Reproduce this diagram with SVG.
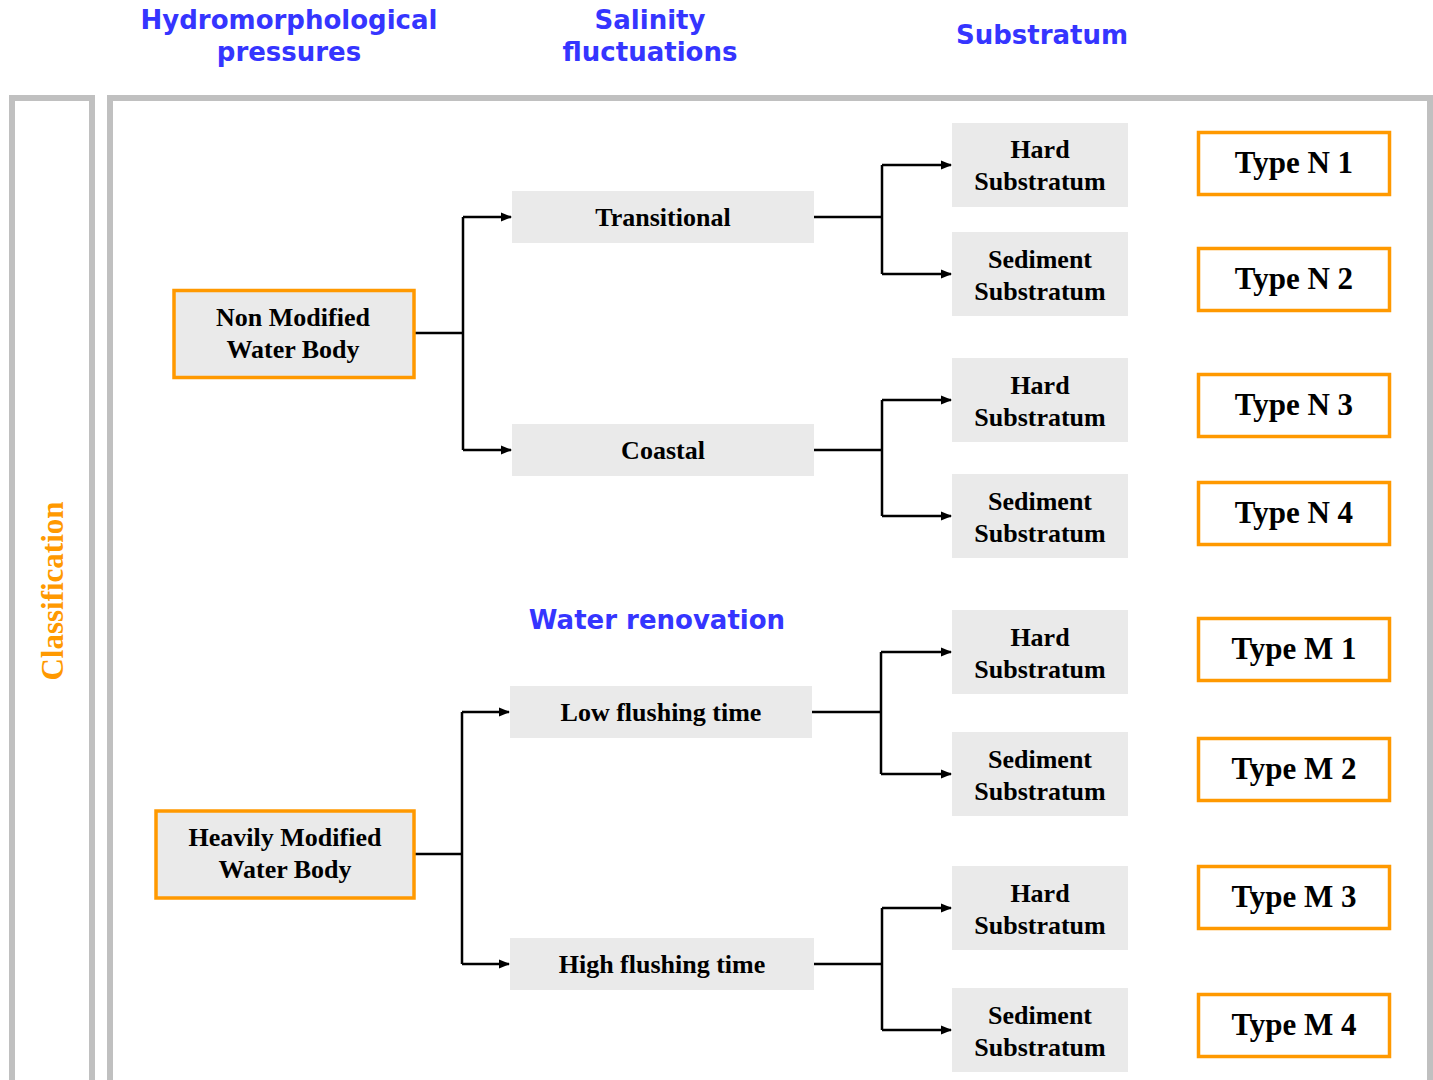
<svg xmlns="http://www.w3.org/2000/svg" width="1433" height="1080" viewBox="0 0 1433 1080">
<style>
.hdr{font-family:"DejaVu Sans","Liberation Sans",sans-serif;font-weight:bold;font-size:26px;fill:#3535ff;text-anchor:middle}
.lbl{font-family:"Liberation Serif","Times New Roman",serif;font-weight:bold;font-size:26px;fill:#000;text-anchor:middle}
.typ{font-family:"Liberation Serif","Times New Roman",serif;font-weight:bold;font-size:31px;fill:#000;text-anchor:middle}
.grey{fill:#eaeaea}
.orange{fill:#eaeaea;stroke:#ff9900;stroke-width:3.5}
.type{fill:#fff;stroke:#ff9900;stroke-width:3.5}
.frame{fill:none;stroke:#c0c0c0;stroke-width:6}
.con{fill:none;stroke:#000;stroke-width:2.5}
</style>
<defs>
<marker id="arr" markerUnits="userSpaceOnUse" markerWidth="12" markerHeight="12" refX="10" refY="6" orient="auto">
<path d="M0,1.5 L11,6 L0,10.5 Z" fill="#000"/>
</marker>
</defs>
<rect width="1433" height="1080" fill="#fff"/>
<g id="frames">
<rect class="frame" x="12" y="98" width="80" height="1000"/>
<rect class="frame" x="110" y="98" width="1320" height="1000"/>
</g>
<g id="headers">
<text class="hdr" x="289" y="29">Hydromorphological</text>
<text class="hdr" x="289" y="61">pressures</text>
<text class="hdr" x="650" y="29">Salinity</text>
<text class="hdr" x="650" y="61">fluctuations</text>
<text class="hdr" x="1042" y="44">Substratum</text>
<text class="hdr" x="657" y="629">Water renovation</text>
</g>
<g id="classification">
<text x="0" y="0" transform="translate(63,591) rotate(-90)" font-family="Liberation Serif,serif" font-weight="bold" font-size="31" fill="#ff9900" text-anchor="middle">Classification</text>
</g>
<g id="connectors">
<path class="con" d="M415,333 H463 M463,217 V450"/>
<path class="con" d="M463,217 H511" marker-end="url(#arr)"/>
<path class="con" d="M463,450 H511" marker-end="url(#arr)"/>
<path class="con" d="M814,217 H882 M882,165 V274"/>
<path class="con" d="M882,165 H951" marker-end="url(#arr)"/>
<path class="con" d="M882,274 H951" marker-end="url(#arr)"/>
<path class="con" d="M814,450 H882 M882,400 V516"/>
<path class="con" d="M882,400 H951" marker-end="url(#arr)"/>
<path class="con" d="M882,516 H951" marker-end="url(#arr)"/>
<path class="con" d="M415,854 H462 M462,712 V964"/>
<path class="con" d="M462,712 H509" marker-end="url(#arr)"/>
<path class="con" d="M462,964 H509" marker-end="url(#arr)"/>
<path class="con" d="M812,712 H881 M881,652 V774"/>
<path class="con" d="M881,652 H951" marker-end="url(#arr)"/>
<path class="con" d="M881,774 H951" marker-end="url(#arr)"/>
<path class="con" d="M814,964 H882 M882,908 V1030"/>
<path class="con" d="M882,908 H951" marker-end="url(#arr)"/>
<path class="con" d="M882,1030 H951" marker-end="url(#arr)"/>
</g>
<g id="non-modified">
<rect class="orange" x="174" y="290.5" width="240" height="87"/>
<text class="lbl" x="293" y="326">Non Modified</text>
<text class="lbl" x="293" y="358">Water Body</text>
</g>
<g id="heavily-modified">
<rect class="orange" x="156" y="811" width="258" height="87"/>
<text class="lbl" x="285" y="846">Heavily Modified</text>
<text class="lbl" x="285" y="878">Water Body</text>
</g>
<g id="transitional">
<rect class="grey" x="512" y="191" width="302" height="52"/>
<text class="lbl" x="663" y="226">Transitional</text>
</g>
<g id="coastal">
<rect class="grey" x="512" y="424" width="302" height="52"/>
<text class="lbl" x="663" y="459">Coastal</text>
</g>
<g id="low-flushing">
<rect class="grey" x="510" y="686" width="302" height="52"/>
<text class="lbl" x="661" y="721">Low flushing time</text>
</g>
<g id="high-flushing">
<rect class="grey" x="510" y="938" width="304" height="52"/>
<text class="lbl" x="662" y="973">High flushing time</text>
</g>
<g id="sub-n1"><rect class="grey" x="952" y="123" width="176" height="84"/><text class="lbl" x="1040" y="158">Hard</text><text class="lbl" x="1040" y="190">Substratum</text></g>
<g id="sub-n2"><rect class="grey" x="952" y="232" width="176" height="84"/><text class="lbl" x="1040" y="268">Sediment</text><text class="lbl" x="1040" y="300">Substratum</text></g>
<g id="sub-n3"><rect class="grey" x="952" y="358" width="176" height="84"/><text class="lbl" x="1040" y="394">Hard</text><text class="lbl" x="1040" y="426">Substratum</text></g>
<g id="sub-n4"><rect class="grey" x="952" y="474" width="176" height="84"/><text class="lbl" x="1040" y="510">Sediment</text><text class="lbl" x="1040" y="542">Substratum</text></g>
<g id="sub-m1"><rect class="grey" x="952" y="610" width="176" height="84"/><text class="lbl" x="1040" y="646">Hard</text><text class="lbl" x="1040" y="678">Substratum</text></g>
<g id="sub-m2"><rect class="grey" x="952" y="732" width="176" height="84"/><text class="lbl" x="1040" y="768">Sediment</text><text class="lbl" x="1040" y="800">Substratum</text></g>
<g id="sub-m3"><rect class="grey" x="952" y="866" width="176" height="84"/><text class="lbl" x="1040" y="902">Hard</text><text class="lbl" x="1040" y="934">Substratum</text></g>
<g id="sub-m4"><rect class="grey" x="952" y="988" width="176" height="84"/><text class="lbl" x="1040" y="1024">Sediment</text><text class="lbl" x="1040" y="1056">Substratum</text></g>
<g id="type-n1"><rect class="type" x="1198.5" y="132.5" width="191" height="62"/><text class="typ" x="1294" y="173">Type N 1</text></g>
<g id="type-n2"><rect class="type" x="1198.5" y="248.5" width="191" height="62"/><text class="typ" x="1294" y="289">Type N 2</text></g>
<g id="type-n3"><rect class="type" x="1198.5" y="374.5" width="191" height="62"/><text class="typ" x="1294" y="415">Type N 3</text></g>
<g id="type-n4"><rect class="type" x="1198.5" y="482.5" width="191" height="62"/><text class="typ" x="1294" y="523">Type N 4</text></g>
<g id="type-m1"><rect class="type" x="1198.5" y="618.5" width="191" height="62"/><text class="typ" x="1294" y="659">Type M 1</text></g>
<g id="type-m2"><rect class="type" x="1198.5" y="738.5" width="191" height="62"/><text class="typ" x="1294" y="779">Type M 2</text></g>
<g id="type-m3"><rect class="type" x="1198.5" y="866.5" width="191" height="62"/><text class="typ" x="1294" y="907">Type M 3</text></g>
<g id="type-m4"><rect class="type" x="1198.5" y="994.5" width="191" height="62"/><text class="typ" x="1294" y="1035">Type M 4</text></g>
</svg>
